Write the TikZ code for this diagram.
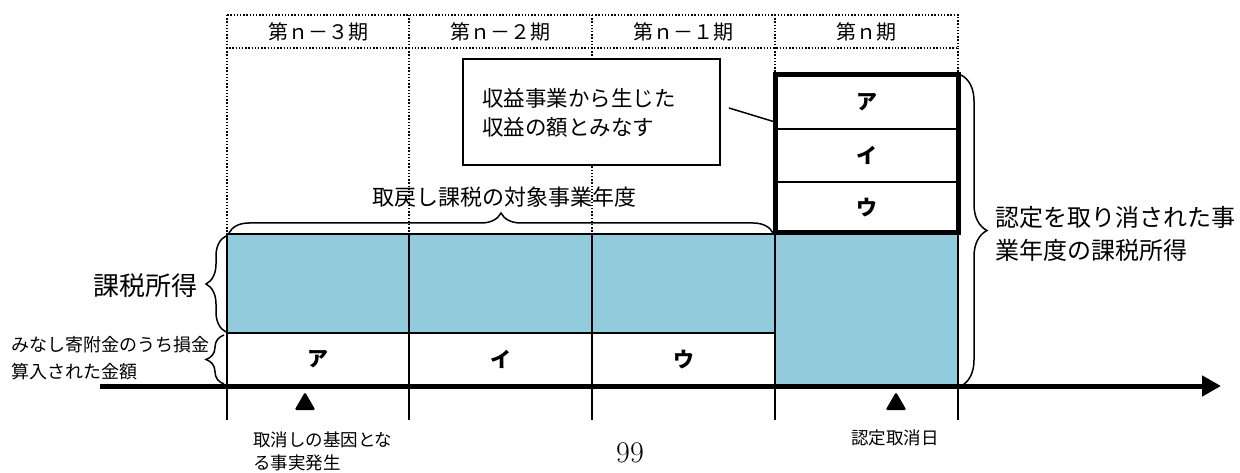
\documentclass[tikz,border=0pt]{standalone}
\usepackage{fontspec}
\newfontfamily\jp{Noto Sans CJK JP}
\usetikzlibrary{arrows.meta,decorations.pathreplacing,shapes.geometric}
\definecolor{skyb}{RGB}{146,204,220}
\newcommand\fhdr{\jp\fontsize{20}{20}\selectfont}
\newcommand\fcall{\jp\fontsize{21.5}{29}\selectfont}
\newcommand\fbig{\jp\fontsize{26}{26}\selectfont}
\newcommand\fright{\jp\fontsize{24}{33}\selectfont}
\newcommand\fmid{\jp\fontsize{22}{22}\selectfont}
\newcommand\fsmall{\jp\fontsize{18}{27}\selectfont}
\newcommand\fbot{\jp\fontsize{17.5}{23}\selectfont}
\newcommand\fkata{\jp\bfseries\fontsize{21}{21}\selectfont}
\begin{document}
\begin{tikzpicture}[x=1pt,y=-1pt,
  thinl/.style={line width=1.5pt},
  dotl/.style={line width=1.4pt, dash pattern=on 1.4pt off 1.8pt},
  cellbox/.style 2 args={draw, line width=1.5pt, anchor=north west, inner sep=0pt, outer sep=0pt, minimum width=#1, minimum height=#2},
  lbl/.style={inner sep=0pt, outer sep=0pt},
  bracel/.style={decorate, decoration={brace, amplitude=#1}, line width=1.5pt},
  tri/.style={regular polygon, regular polygon sides=3, fill=black, minimum size=24pt, inner sep=0pt, rounded corners=1.5pt}
]
\useasboundingbox (0,0) rectangle (1240,473);
\fill[white] (0,0) rectangle (1240,473);

% header (dotted)
\node[cellbox={182pt}{33pt}, draw=none] (h1) at (227,15) {\fhdr 第ｎ－３期};
\node[cellbox={183pt}{33pt}, draw=none] (h2) at (409,15) {\fhdr 第ｎ－２期};
\node[cellbox={183pt}{33pt}, draw=none] (h3) at (592,15) {\fhdr 第ｎ－１期};
\node[cellbox={183pt}{33pt}, draw=none] (h4) at (775,15) {\fhdr 第ｎ期};
\draw[dotl] (h1.north west) rectangle (h4.south east);
\draw[dotl] (h1.north east) -- (h1.south east);
\draw[dotl] (h2.north east) -- (h2.south east);
\draw[dotl] (h3.north east) -- (h3.south east);

% dotted guides below header
\coordinate (g0) at (227,234);
\coordinate (g1) at (409,234);
\coordinate (g2) at (592,234);
\coordinate (g3) at (775,75);
\coordinate (g4) at (958,75);
\draw[dotl] (h1.south west) -- (g0);
\draw[dotl] (h1.south east) -- (g1);
\draw[dotl] (h2.south east) -- (g2);
\draw[dotl] (h3.south east) -- (g3);
\draw[dotl] (h4.south east) -- (g4);

% callout
\node[cellbox={257pt}{106pt}, fill=white] (callout) at (463,59) {};
\node[lbl, anchor=west, align=left, font=\fcall] (calltext) at (482,113) {収益事業から生じた\\収益の額とみなす};

% blue cells
\node[cellbox={182pt}{99pt}, fill=skyb] (b1) at (227,234) {};
\node[cellbox={183pt}{99pt}, fill=skyb] (b2) at (409,234) {};
\node[cellbox={183pt}{99pt}, fill=skyb] (b3) at (592,234) {};
% white cells
\node[cellbox={182pt}{53pt}] (w1) at (227,333) {\fkata ア};
\node[cellbox={183pt}{53pt}] (w2) at (409,333) {\fkata イ};
\node[cellbox={183pt}{53pt}] (w3) at (592,333) {\fkata ウ};
% nth period
\node[cellbox={183pt}{153pt}, fill=skyb] (b4) at (775,233) {};
\node[cellbox={183pt}{54pt}] (r1) at (775,75) {\fkata ア};
\node[cellbox={183pt}{53pt}] (r2) at (775,129) {\fkata イ};
\node[cellbox={183pt}{51pt}] (r3) at (775,182) {\fkata ウ};
\draw[line width=5pt] (r1.north west) rectangle (r3.south east);

% callout connector
\coordinate (cs) at (729,108);
\draw[thinl] (cs) -- ([yshift=7pt]r1.south west);

% ticks
\coordinate (k0) at (227,420);
\coordinate (k1) at (409,420);
\coordinate (k2) at (592,420);
\coordinate (k3) at (775,420);
\coordinate (k4) at (958,420);
\draw[thinl] (w1.south west) -- (k0);
\draw[thinl] (w1.south east) -- (k1);
\draw[thinl] (w2.south east) -- (k2);
\draw[thinl] (b4.south west) -- (k3);
\draw[thinl] (b4.south east) -- (k4);

% axis
\coordinate (axL) at (100,386);
\coordinate (axR) at (1221,386);
\draw[line width=5pt, -{Triangle[length=19pt,width=20pt]}] (axL) -- (axR);

% braces
\coordinate (ba1) at (226,332);
\coordinate (ba2) at (226,236);
\draw[bracel=20pt] (ba1) -- (ba2);
\node[lbl, anchor=east, font=\fbig] (kazei) at (197,286) {課税所得};

\coordinate (bb1) at (224,384);
\coordinate (bb2) at (224,335);
\draw[bracel=18pt] (bb1) -- (bb2);
\node[lbl, anchor=west, align=left, font=\fsmall] (minashi) at (11,358.5) {みなし寄附金のうち損金\\算入された金額};

\coordinate (bc1) at (229,233);
\coordinate (bc2) at (773,233);
\draw[bracel=20pt] (bc1) -- (bc2);
\node[lbl, font=\fmid] (torimodoshi) at (504,197) {取戻し課税の対象事業年度};

\coordinate (bd1) at (961,75);
\coordinate (bd2) at (961,386);
\draw[bracel=26pt] (bd1) -- (bd2);
\node[lbl, anchor=west, align=left, font=\fright] (nintei) at (995,233.5) {認定を取り消された事\\業年度の課税所得};

% triangles and bottom labels
\node[tri] (t1) at (305,404) {};
\node[tri] (t2) at (896,404) {};
\node[lbl, anchor=west, align=left, font=\fbot] (kiin) at (253,451.5) {取消しの基因とな\\る事実発生};
\node[lbl, font=\fbot] (torikeshi) at (895,438) {認定取消日};
\node[lbl] (page) at (630,453) {\fontsize{30}{30}\selectfont 99};
\end{tikzpicture}
\end{document}
